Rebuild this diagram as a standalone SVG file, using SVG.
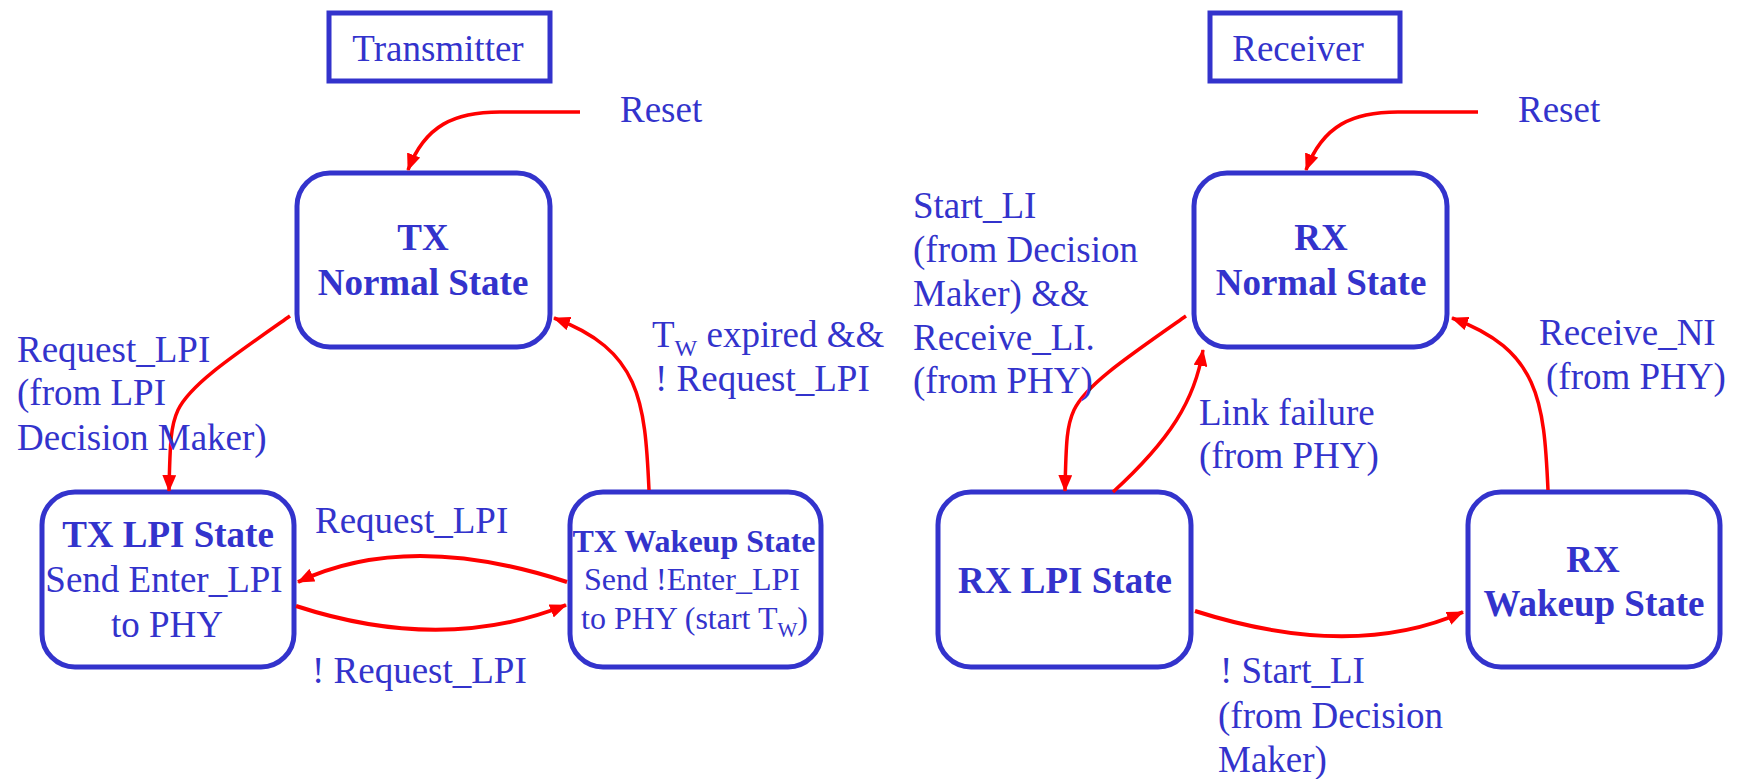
<svg xmlns="http://www.w3.org/2000/svg" width="1738" height="779" viewBox="0 0 1738 779">
<style>
.bx{fill:none;stroke:#3333CC;stroke-width:5}
.t{font-family:"Liberation Serif","Times New Roman",serif;font-size:37px;fill:#3333CC}
.b{font-weight:bold}
.s{font-size:32px}
.m{text-anchor:middle}
.c{fill:none;stroke:#FF0000;stroke-width:3.5;marker-end:url(#ah)}
.c4{stroke-width:4}
</style>
<defs>
<marker id="ah" viewBox="0 0 17 14" refX="16" refY="7" markerWidth="17" markerHeight="14" markerUnits="userSpaceOnUse" orient="auto">
<path d="M0,0 L17,7 L0,14 z" fill="#FF0000"/>
</marker>
</defs>
<rect width="1738" height="779" fill="#FFFFFF"/>

<g id="transmitter-title">
<rect x="329" y="13" width="221" height="68" class="bx"/>
<text x="438" y="61" class="t m">Transmitter</text>
</g>
<g id="receiver-title">
<rect x="1210" y="13" width="190" height="68" class="bx"/>
<text x="1298" y="61" class="t m">Receiver</text>
</g>

<g id="tx-normal">
<rect x="297" y="173" width="253" height="174" rx="33" class="bx"/>
<text x="423" y="250" class="t b m">TX</text>
<text x="423" y="295" class="t b m">Normal State</text>
</g>
<g id="tx-lpi">
<rect x="42" y="492" width="252" height="175" rx="33" class="bx"/>
<text x="168" y="547" class="t b m">TX LPI State</text>
<text x="164" y="592" class="t m">Send Enter_LPI</text>
<text x="167" y="637" class="t m">to PHY</text>
</g>
<g id="tx-wakeup">
<rect x="570" y="492" width="251" height="175" rx="33" class="bx"/>
<text x="694" y="552" class="t s b m">TX Wakeup State</text>
<text x="692" y="590" class="t s m">Send !Enter_LPI</text>
<text x="581" y="629" class="t s">to PHY (start T<tspan font-size="21" dy="8">W</tspan><tspan dy="-8">)</tspan></text>
</g>

<g id="rx-normal">
<rect x="1194" y="173" width="253" height="174" rx="33" class="bx"/>
<text x="1321" y="250" class="t b m">RX</text>
<text x="1321" y="295" class="t b m">Normal State</text>
</g>
<g id="rx-lpi">
<rect x="938" y="492" width="253" height="175" rx="33" class="bx"/>
<text x="1065" y="593" class="t b m">RX LPI State</text>
</g>
<g id="rx-wakeup">
<rect x="1468" y="492" width="252" height="175" rx="33" class="bx"/>
<text x="1593" y="572" class="t b m">RX</text>
<text x="1594" y="616" class="t b m">Wakeup State</text>
</g>

<g id="connectors">
<path class="c" d="M 580 112 L 500 112 C 455 112, 425 125, 408 170"/>
<path class="c" d="M 290 316 C 230 358, 190 385, 178 410 C 171 425, 170 440, 169 491"/>
<path class="c" d="M 649 490 C 645 400, 640 350, 554 318"/>
<path class="c c4" d="M 567 582 Q 408 530, 298 582"/>
<path class="c c4" d="M 296 606 Q 443 654, 566 605"/>

<path class="c" d="M 1478 112 L 1398 112 C 1353 112, 1323 125, 1306 170"/>
<path class="c" d="M 1186 316 C 1126 358, 1086 385, 1074 410 C 1067 425, 1066 440, 1065 491"/>
<path class="c" d="M 1113 492 C 1170 440, 1195 400, 1203 350"/>
<path class="c" d="M 1548 490 C 1544 400, 1539 350, 1452 318"/>
<path class="c c4" d="M 1195 611 Q 1352 661, 1463 612"/>
</g>

<g id="labels">
<text x="620" y="122" class="t">Reset</text>
<text x="1518" y="122" class="t">Reset</text>
<text x="17" y="362" class="t">Request_LPI</text>
<text x="17" y="405" class="t">(from LPI</text>
<text x="17" y="450" class="t">Decision Maker)</text>
<text x="652" y="347" class="t">T<tspan font-size="24" dy="9">W</tspan><tspan dy="-9"> expired &amp;&amp;</tspan></text>
<text x="655" y="391" class="t">! Request_LPI</text>
<text x="315" y="533" class="t">Request_LPI</text>
<text x="312" y="683" class="t">! Request_LPI</text>
<text x="913" y="218" class="t">Start_LI</text>
<text x="913" y="262" class="t">(from Decision</text>
<text x="913" y="306" class="t">Maker) &amp;&amp;</text>
<text x="913" y="350" class="t">Receive_LI.</text>
<text x="913" y="393" class="t">(from PHY)</text>
<text x="1199" y="425" class="t">Link failure</text>
<text x="1199" y="468" class="t">(from PHY)</text>
<text x="1539" y="345" class="t">Receive_NI</text>
<text x="1546" y="389" class="t">(from PHY)</text>
<text x="1220" y="683" class="t">! Start_LI</text>
<text x="1218" y="728" class="t">(from Decision</text>
<text x="1218" y="772" class="t">Maker)</text>
</g>
</svg>
